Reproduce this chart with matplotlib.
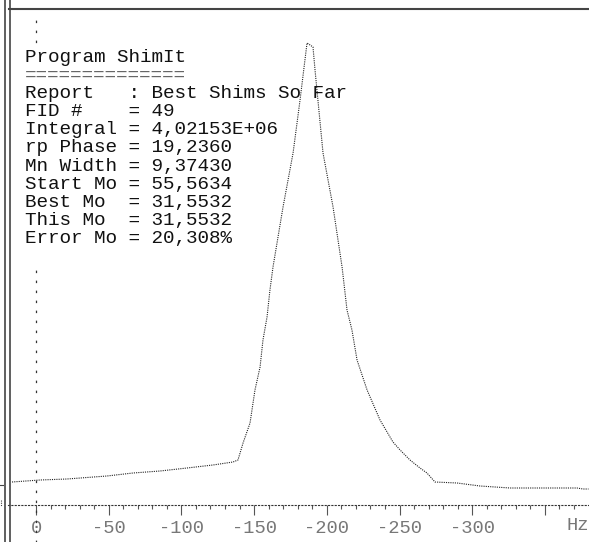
import matplotlib
matplotlib.use("Agg")
import matplotlib.pyplot as plt
from matplotlib.lines import Line2D
from matplotlib.patches import Rectangle
import numpy as np

W, H = 589, 542

# spectrum (Hz, intensity above the baseline axis)
freq_hz = [16.5, -2.8, -21.3, -48.8, -66.7, -85.3, -103.9, -121.7, -135.5, -138.9,
           -142.4, -147.2, -150.6, -154.1, -156.1, -158.9, -160.9, -163.0, -169.9,
           -176.8, -181.6, -186.4, -188.5, -190.5, -191.9, -197.4, -204.3, -210.5,
           -213.9, -217.3, -220.8, -227.7, -236.6, -245.5, -250.4, -257.2, -264.1,
           -268.9, -274.4, -289.6, -305.4, -326.0, -372.1, -376.2, -380.0]
intensity = [23, 25, 26, 29, 32, 34, 37, 40, 43, 45,
             62, 82, 115, 138, 165, 188, 215, 238, 298,
             352, 405, 462, 460, 458, 435, 352, 298, 238,
             195, 175, 145, 115, 85, 63, 55, 45, 37,
             32, 23, 22, 19, 17, 17, 16, 16]

tick_pos = [0, -50, -100, -150, -200, -250, -300, -350]
tick_labels = ["0", "-50", "-100", "-150", "-200", "-250", "-300", ""]

report = [
    "Program ShimIt",
    "==============",
    "Report   : Best Shims So Far",
    "FID #    = 49",
    "Integral = 4,02153E+06",
    "rp Phase = 19,2360",
    "Mn Width = 9,37430",
    "Start Mo = 55,5634",
    "Best Mo  = 31,5532",
    "This Mo  = 31,5532",
    "Error Mo = 20,308%",
]

mono = "Liberation Mono"


def fpos(x, y):
    # screen pixels -> figure fraction
    return x / W, 1 - y / H


fig = plt.figure(figsize=(W / 100, H / 100), dpi=100)
ax = fig.add_axes([0, 0, 1, 1])
ax.set_xlim(36 * 50 / 72.7, -(W - 36) * 50 / 72.7)
ax.set_ylim(505 - H, 505)

ax.plot(freq_hz, intensity, color="#222222", lw=0.8, ls=(0, (1, 1)), zorder=3)

# axes drawn as dotted lines through zero
for s in ["top", "right"]:
    ax.spines[s].set_visible(False)
ax.spines["bottom"].set_position(("data", 0))
ax.spines["bottom"].set_bounds(19, -380)
ax.spines["bottom"].set_linestyle((0, (1, 2)))
ax.spines["bottom"].set_color("#333333")
ax.spines["bottom"].set_linewidth(0.8)
ax.spines["left"].set_position(("data", 0))
ax.spines["left"].set_bounds(505 - H, 490)
ax.spines["left"].set_linestyle((0, (1, 7)))
ax.spines["left"].set_color("#333333")
ax.spines["left"].set_linewidth(0.9)
ax.set_yticks([])

ax.set_xticks(tick_pos)
ax.set_xticklabels(tick_labels, fontfamily=mono, fontsize=13.5, color="#777777")
ax.set_xticks(np.arange(0, -380, -10), minor=True)
ax.tick_params(axis="x", which="major", direction="out", length=7.5, width=0.8,
               color="#555555", pad=3)
ax.tick_params(axis="x", which="minor", direction="out", length=3, width=0.8,
               color="#555555")
ax.set_facecolor("white")

fig.text(*fpos(567, 530), "Hz", fontfamily=mono, fontsize=13.5, color="#777777",
         ha="left", va="baseline")

# the report block hides the vertical axis behind it
fig.add_artist(Rectangle(fpos(30, 264), 12 / W, 216 / H, transform=fig.transFigure,
                         facecolor="white", edgecolor="none", zorder=4))

for i, line in enumerate(report):
    col = "#666666" if i == 1 else "#111111"
    fig.text(*fpos(25, 62 + 18.1 * i), line, fontfamily=mono, fontsize=13.9,
             color=col, ha="left", va="baseline", zorder=5)

# window frame
frame = dict(color="#444444", transform=fig.transFigure)
fig.add_artist(Line2D([5 / W, 5 / W], [0, 1], lw=1.2, **frame))
fig.add_artist(Line2D([9.5 / W, 9.5 / W], [0, 1], lw=1.2, **frame))
fig.add_artist(Line2D([9 / W, 1], [1 - 8.5 / H, 1 - 8.5 / H], lw=1.5, **frame))
fig.add_artist(Line2D([0, 3 / W], [1 - 485 / H, 1 - 485 / H], lw=0.8, **frame))
fig.add_artist(Line2D([1 / W, 1 / W], [1 - 500 / H, 1 - 506 / H], lw=0.8,
                      ls=(0, (1, 1)), **frame))

fig.savefig("out.png", dpi=100)
